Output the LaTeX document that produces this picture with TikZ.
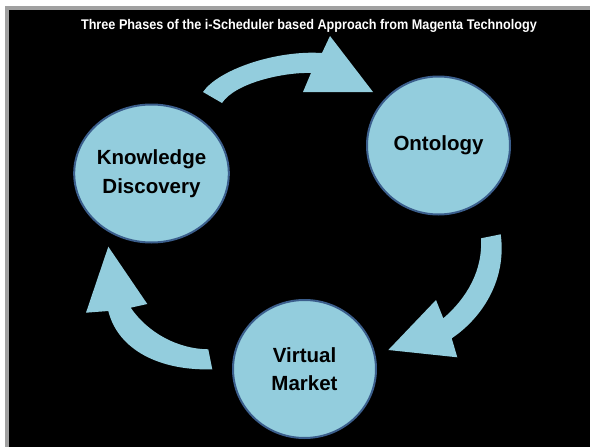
\documentclass[tikz,border=0pt]{standalone}
\usepackage{fontspec}
\setmainfont{Liberation Sans}
\newfontfamily\narrowtitlefont[FakeStretch=0.905]{Liberation Sans}
\usetikzlibrary{shapes.geometric}
\definecolor{phasefill}{HTML}{93CDDD}
\definecolor{phaseline}{HTML}{3B5E8C}
\definecolor{framegrey}{HTML}{A0A0A0}
\tikzset{
  phase/.style={ellipse, draw=phaseline, line width=2pt, fill=phasefill,
    minimum width=143pt, minimum height=138pt, inner sep=0pt, align=center,
    font=\bfseries\fontsize{20.5}{29}\selectfont, text=black},
  bigarrow/.style={fill=phasefill},
  titletext/.style={text=white, font=\narrowtitlefont\bfseries\fontsize{14}{16}\selectfont, inner sep=0pt}
}
\begin{document}
\begin{tikzpicture}[x=1pt,y=-1pt]
\useasboundingbox (0,0) rectangle (590,447);
\fill[white] (0,0) rectangle (590,447);
\fill[framegrey] (5,6) rectangle (590,447);
\fill[black] (9,10) rectangle (590,447);

\node[titletext, anchor=base] (title) at (309,29) {Three Phases of the i-Scheduler based Approach from Magenta Technology};

\node[phase] (kd) at (151.5,173.5) {Knowledge\\Discovery};
\node[phase] (on) at (438.5,145.5) {Ontology};
\node[phase, font=\bfseries\fontsize{20.5}{28}\selectfont] (vm) at (304.5,369) {Virtual\\Market};

% top arrow: Knowledge Discovery -> Ontology
\fill[bigarrow] (203,92) .. controls (218,70) and (275,50) .. (322,53)
  -- (330,36) -- (373,92) -- (303,92) -- (311,73)
  .. controls (286,72) and (236,82) .. (222,103) -- cycle;
% right arrow: Ontology -> Virtual Market
\fill[bigarrow] (481,238.3) -- (500.7,234.3)
  .. controls (507,280) and (482,318) .. (451.7,338.3)
  -- (457.3,357.3) -- (388.3,350) -- (436,300) -- (443.3,318.3)
  .. controls (467,298) and (483,270) .. (481,238.3) -- cycle;
% left arrow: Virtual Market -> Knowledge Discovery
\fill[bigarrow] (208.3,349.3) -- (212.3,369.3)
  .. controls (160,371) and (118,350) .. (108.3,311)
  -- (86,312.7) -- (108.3,246.7) -- (147.3,304) -- (130.7,307.7)
  .. controls (148,333) and (178,349) .. (208.3,349.3) -- cycle;
\end{tikzpicture}
\end{document}
